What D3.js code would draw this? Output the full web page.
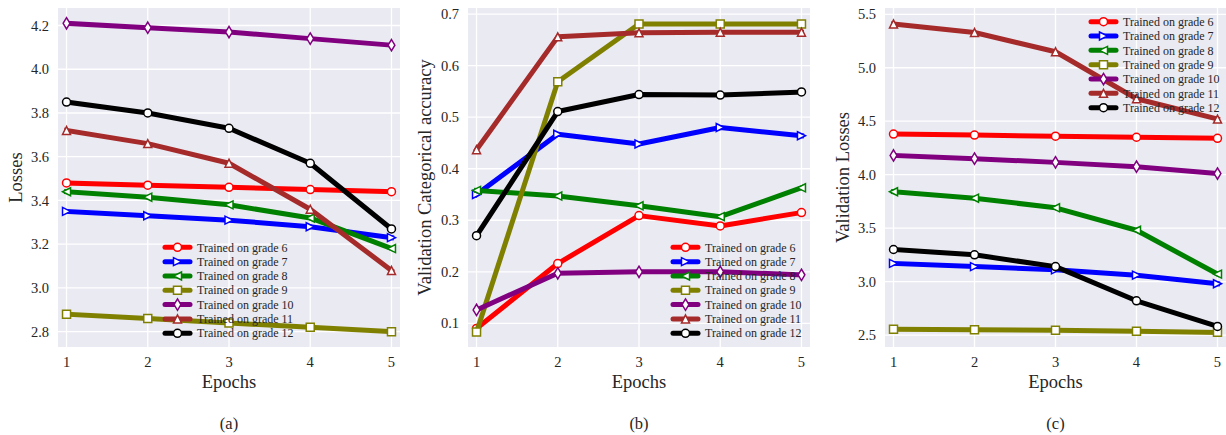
<!DOCTYPE html>
<html>
<head>
<meta charset="utf-8">
<script src="https://cdn.jsdelivr.net/npm/d3@7"></script>
<style>
  body { margin: 0; background: #fff; }
</style>
</head>
<body>
<svg id="chart" width="1226" height="435" font-family="'Liberation Serif', 'DejaVu Serif', serif"></svg>
<script>
// ---- data ----
const epochs = [1, 2, 3, 4, 5];
const grades = ["6", "7", "8", "9", "10", "11", "12"];
const colors = ["#ff0000", "#0000ff", "#008000", "#808000", "#800080", "#a52a2a", "#000000"];
const markers = ["o", ">", "<", "s", "d", "^", "o"];

// (a) training losses, one row per grade
const trainLoss = [
  [3.48, 3.47, 3.46, 3.45, 3.44],
  [3.35, 3.33, 3.31, 3.28, 3.23],
  [3.44, 3.415, 3.38, 3.32, 3.18],
  [2.88, 2.86, 2.84, 2.82, 2.80],
  [4.21, 4.19, 4.17, 4.14, 4.11],
  [3.72, 3.66, 3.57, 3.36, 3.08],
  [3.85, 3.80, 3.73, 3.57, 3.27],
];
// (b) validation categorical accuracy
const valAccuracy = [
  [0.09, 0.216, 0.309, 0.289, 0.315],
  [0.35, 0.467, 0.448, 0.48, 0.464],
  [0.358, 0.347, 0.328, 0.307, 0.363],
  [0.083, 0.569, 0.681, 0.681, 0.681],
  [0.126, 0.197, 0.2, 0.2, 0.194],
  [0.437, 0.656, 0.664, 0.665, 0.665],
  [0.27, 0.511, 0.544, 0.543, 0.549],
];
// (c) validation losses
const valLoss = [
  [4.38, 4.37, 4.36, 4.35, 4.34],
  [3.17, 3.14, 3.11, 3.06, 2.98],
  [3.84, 3.78, 3.69, 3.48, 3.07],
  [2.555, 2.55, 2.545, 2.535, 2.525],
  [4.18, 4.15, 4.115, 4.075, 4.01],
  [5.41, 5.33, 5.15, 4.71, 4.52],
  [3.30, 3.25, 3.14, 2.82, 2.58],
];

const lossTicks = [2.8, 3.0, 3.2, 3.4, 3.6, 3.8, 4.0, 4.2];
const accTicks = [0.1, 0.2, 0.3, 0.4, 0.5, 0.6, 0.7];
const valLossTicks = [2.5, 3.0, 3.5, 4.0, 4.5, 5.0, 5.5];

const svg = d3.select("#chart");
const FONT = "'Liberation Serif', 'DejaVu Serif', serif";

function markerPath(shape, s) {
  const h = s / 2;
  if (shape === "o") {
    const p = d3.path();
    p.arc(0, 0, h, 0, 2 * Math.PI);
    p.closePath();
    return p.toString();
  }
  if (shape === ">") return `M${h},0L${-h},${-h}L${-h},${h}Z`;
  if (shape === "<") return `M${-h},0L${h},${-h}L${h},${h}Z`;
  if (shape === "^") return `M0,${-h}L${-h},${h}L${h},${h}Z`;
  if (shape === "s") return `M${-h},${-h}H${h}V${h}H${-h}Z`;
  if (shape === "d") {
    const hh = 0.707 * s, w = 0.6 * 0.707 * s;
    return `M0,${-hh}L${w},0L0,${hh}L${-w},0Z`;
  }
}

const MS = 8;

function addText(sel, size) {
  return sel.append("text")
    .attr("font-family", FONT)
    .attr("font-size", size)
    .attr("fill", "#262626")
    .attr("dy", "0.35em");
}

function drawPanel(cfg) {
  const g = svg.append("g");
  const x = d3.scaleLinear().domain([0.895, 5.105]).range([cfg.left, cfg.right]);
  const y = d3.scaleLinear().domain(cfg.yDomain).range([cfg.bottom, cfg.top]);

  g.append("rect")
    .attr("x", cfg.left).attr("y", cfg.top)
    .attr("width", cfg.right - cfg.left).attr("height", cfg.bottom - cfg.top)
    .attr("fill", "#eaeaf2");

  // grid
  g.append("g").selectAll("line").data(cfg.ticks).join("line")
    .attr("x1", cfg.left).attr("x2", cfg.right)
    .attr("y1", (d) => y(d)).attr("y2", (d) => y(d))
    .attr("stroke", "#fff").attr("stroke-width", 1.3);
  g.append("g").selectAll("line").data(epochs).join("line")
    .attr("x1", (d) => x(d)).attr("x2", (d) => x(d))
    .attr("y1", cfg.top).attr("y2", cfg.bottom)
    .attr("stroke", "#fff").attr("stroke-width", 1.3);

  // tick labels
  cfg.ticks.forEach((t) => {
    addText(g, 14.5).attr("x", cfg.left - 9).attr("y", y(t))
      .attr("text-anchor", "end").text(d3.format(".1f")(t));
  });
  epochs.forEach((e) => {
    addText(g, 14.5).attr("x", x(e)).attr("y", 362)
      .attr("text-anchor", "middle").text(e);
  });

  // axis titles
  addText(g, 18.5).attr("x", (cfg.left + cfg.right) / 2).attr("y", 382)
    .attr("text-anchor", "middle").text("Epochs");
  addText(g, 18.5)
    .attr("transform", `translate(${cfg.ylabelX},${(cfg.top + cfg.bottom) / 2}) rotate(-90)`)
    .attr("text-anchor", "middle").text(cfg.ylabel);
  addText(g, 16.5).attr("x", (cfg.left + cfg.right) / 2).attr("y", 423)
    .attr("text-anchor", "middle").text(cfg.caption);

  // series
  const line = d3.line().x((d, i) => x(epochs[i])).y((d) => y(d));
  cfg.values.forEach((vals, k) => {
    const s = g.append("g");
    s.append("path")
      .attr("d", line(vals))
      .attr("fill", "none")
      .attr("stroke", colors[k])
      .attr("stroke-width", 5)
      .attr("stroke-linejoin", "round")
      .attr("stroke-linecap", "square");
    s.selectAll(".mk").data(vals).join("path")
      .attr("class", "mk")
      .attr("transform", (d, i) => `translate(${x(epochs[i])},${y(d)})`)
      .attr("d", markerPath(markers[k], MS))
      .attr("fill", "#fff")
      .attr("stroke", colors[k])
      .attr("stroke-width", 1.5);
  });

  // legend
  const leg = g.append("g");
  grades.forEach((gr, k) => {
    const yy = cfg.legY + k * 14.33;
    leg.append("line")
      .attr("x1", cfg.legX).attr("x2", cfg.legX + 25)
      .attr("y1", yy).attr("y2", yy)
      .attr("stroke", colors[k]).attr("stroke-width", 5)
      .attr("stroke-linecap", "round");
    leg.append("path")
      .attr("transform", `translate(${cfg.legX + 12.5},${yy})`)
      .attr("d", markerPath(markers[k], MS))
      .attr("fill", "#fff").attr("stroke", colors[k]).attr("stroke-width", 1.5);
    addText(leg, 12).attr("x", cfg.legX + 32).attr("y", yy)
      .text("Trained on grade " + gr);
  });
}

drawPanel({
  left: 58, right: 400, top: 8, bottom: 347,
  yDomain: [2.73, 4.28], ticks: lossTicks, values: trainLoss,
  ylabel: "Losses", ylabelX: 16, caption: "(a)",
  legX: 165, legY: 247.3,
});
drawPanel({
  left: 468, right: 810, top: 8, bottom: 347,
  yDomain: [0.054, 0.712], ticks: accTicks, values: valAccuracy,
  ylabel: "Validation Categorical accuracy", ylabelX: 425, caption: "(b)",
  legX: 673, legY: 247.3,
});
drawPanel({
  left: 885, right: 1226, top: 8, bottom: 347,
  yDomain: [2.388, 5.559], ticks: valLossTicks, values: valLoss,
  ylabel: "Validation Losses", ylabelX: 843, caption: "(c)",
  legX: 1091, legY: 21.7,
});
</script>
</body>
</html>
